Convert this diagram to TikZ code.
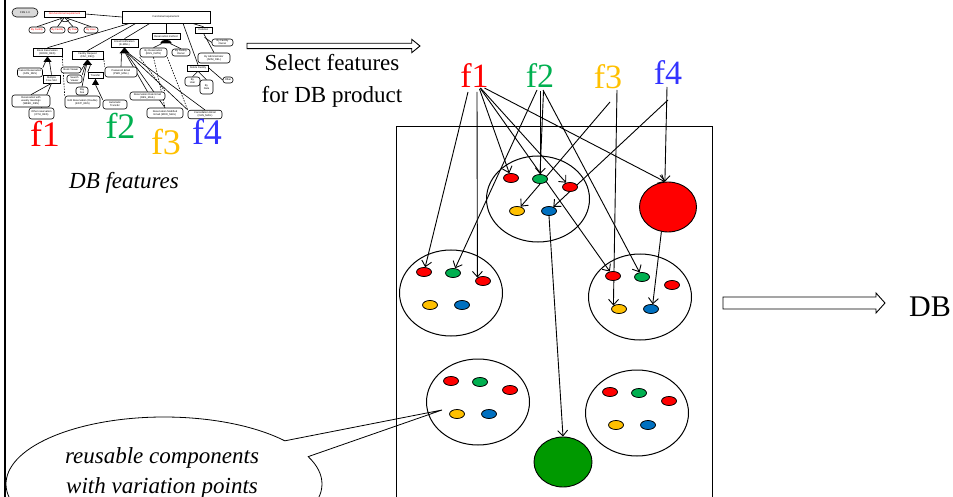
\documentclass[tikz,border=0pt]{standalone}
\usepackage{fontspec}
\setmainfont{Liberation Serif}
\setsansfont{Liberation Sans}
\usetikzlibrary{arrows.meta,shapes.geometric,shapes.callouts,calc,backgrounds}

\definecolor{fred}{HTML}{FF0000}
\definecolor{fgreen}{HTML}{00B050}
\definecolor{fyellow}{HTML}{FFC000}
\definecolor{fblue}{HTML}{3333FF}
\definecolor{dblue}{HTML}{0070C0}
\definecolor{cgreen}{HTML}{009900}

\tikzset{
  comp/.style={draw, ellipse, line width=1pt, minimum width=103pt, minimum height=86pt, inner sep=0pt},
  dot/.style={draw, ellipse, fill=#1, line width=0.8pt, minimum width=15pt, minimum height=9pt, inner sep=0pt},
  blob/.style={draw, ellipse, fill=#1, line width=0.9pt, inner sep=0pt},
  sel/.style={line width=0.9pt, -{Straight Barb[length=5.5pt,width=10pt,line width=0.9pt]}},
  flab/.style={anchor=base, inner sep=0pt, font=\fontsize{34}{34}\selectfont},
  tlab/.style={anchor=base, inner sep=0pt, font=\fontsize{36}{36}\selectfont},
  txt/.style={anchor=base, inner sep=0pt, font=\fontsize{23}{28}\selectfont},
  itxt/.style={anchor=base, inner sep=0pt, font=\itshape\fontsize{23}{28}\selectfont},
  hollow/.style={line width=0.9pt, fill=white, line join=miter},
  tbox/.style={draw, line width=0.6pt, rectangle, inner sep=0pt, align=center, fill=white,
    font=\sffamily\fontsize{2.6}{3}\selectfont},
  tpill/.style={tbox, rounded corners=2.5pt},
  tl/.style={line width=0.6pt},
  tld/.style={line width=0.6pt, dash pattern=on 1.5pt off 1.2pt},
}

\begin{document}
\begin{tikzpicture}[x=1pt, y=-1pt]
\useasboundingbox (0,0) rectangle (953,497);
\clip (0,0) rectangle (953,497);

% ---------- small feature diagram ----------
\node[tbox, rounded corners=4.5pt, fill=black!15, minimum width=26pt, minimum height=9pt] (frs) at (25,12.5) {FRS 1.0};
\node[tbox, text=red, minimum width=41pt, minimum height=6pt] (nonv) at (64.5,14) {Non-functional requirement};
\node[tpill, text=red, minimum width=16pt, minimum height=6pt] (by1) at (37,30) {By Facility};
\node[tpill, text=red, minimum width=15pt, minimum height=6pt] (by2) at (57.5,30) {By Facility};
\node[tpill, text=red, minimum width=10pt, minimum height=6pt] (by3) at (73,30) {By Date};
\node[tpill, text=red, minimum width=14pt, minimum height=6pt] (by4) at (91,30) {By User};
\node[tbox, minimum width=88pt, minimum height=12pt] (fr) at (166,17) {Functional requirement};
\node[tbox, minimum width=29pt, minimum height=8pt] (bookres) at (47.5,52) {Book Reservation\\(BOOK\_RES)};
\node[tbox, minimum width=31pt, minimum height=8pt] (facreq) at (87.5,55) {Facility Request\\(FAC\_REQ)};
\node[tbox, minimum width=27pt, minimum height=8pt] (email) at (124.5,43) {Email Notification\\(E-MAIL)};
\node[tbox, minimum width=28pt, minimum height=6pt] (resmeth) at (166,36.5) {Reservation method};
\node[tbox, minimum width=17pt, minimum height=6pt] (deletion) at (203.5,30) {Deletion};
\node[tbox, minimum width=21pt, minimum height=6pt] (delfac) at (198,68) {Delete Facility};
\node[tbox, minimum width=17pt, minimum height=8pt] (multi) at (51.5,79) {Multiple\\Free Slot};
\node[tbox, minimum width=15pt, minimum height=6pt] (transfer) at (95.5,75.5) {Transfer};
\node[tpill, minimum width=25pt, minimum height=9pt] (p1) at (30,72.5) {Cancel Reservation\\(CAN\_RES)};
\node[tpill, minimum width=38pt, minimum height=12pt] (p2) at (31,101) {Reservation with\\weekly meetings\\(WEEK\_RES)};
\node[tpill, minimum width=25pt, minimum height=11pt] (p3) at (41.5,113.5) {Other reservation\\(OTH\_RES)};
\node[tpill, minimum width=35pt, minimum height=12pt] (p4) at (82.5,102) {Edit Reservation (Double)\\(EDIT\_RES)};
\node[tpill, minimum width=20pt, minimum height=6pt] (p5) at (71,70) {Book Viewer};
\node[tpill, minimum width=15pt, minimum height=8pt] (p6) at (74.5,79) {Search\\Viewer};
\node[tpill, minimum width=12pt, minimum height=8pt] (p7) at (82,91) {Pay\\Fee};
\node[tpill, minimum width=32pt, minimum height=10pt] (p8) at (121,72) {Password Email\\(PWD\_MAIL)};
\node[tpill, minimum width=24pt, minimum height=9pt] (p9) at (115,104.5) {Automatic\\Transfer};
\node[tpill, minimum width=27pt, minimum height=9pt] (p10) at (153.5,52.5) {By Reservation\\(RES\_DATE)};
\node[tpill, minimum width=18pt, minimum height=7pt] (p11) at (181,52.5) {By Facility\\Owner};
\node[tpill, minimum width=35pt, minimum height=8pt] (p12) at (147.5,96) {Reservation Date Email\\(RES\_MAIL)};
\node[tpill, minimum width=36pt, minimum height=10pt] (p13) at (165,113) {Reservation Modified\\Email (MOD\_MAIL)};
\node[tpill, minimum width=34pt, minimum height=8.5pt] (p14) at (205,114.5) {Cancellation Email\\(CAN\_MAIL)};
\node[tpill, minimum width=21pt, minimum height=7pt] (p15) at (222.5,42.5) {By Facility\\Owner};
\node[tpill, minimum width=32pt, minimum height=10pt] (p16) at (214,58) {By Administrator\\(ADM\_DEL)};
\node[tpill, minimum width=15pt, minimum height=9pt] (p17) at (192.5,81.5) {By\\User};
\node[tpill, minimum width=13pt, minimum height=14pt] (p18) at (206.5,87) {By\\Date};
\node[tpill, minimum width=10pt, minimum height=6pt] (p19) at (228,80) {Other};

% group markers
\fill (bookres.south) -- ++(-4,5.5) -- ++(8,0) -- cycle;
\coordinate (t1) at ($(bookres.south)+(0,5.5)$);
\fill (facreq.south) -- ++(-4.5,5.5) -- ++(9,0) -- cycle;
\coordinate (t2) at ($(facreq.south)+(0,5.5)$);
\fill (transfer.south) -- ++(-3.5,6) -- ++(7,0) -- cycle;
\coordinate (t3) at ($(transfer.south)+(0,6)$);
\fill (email.south) -- ++(-5,6) -- ++(10,0) -- cycle;
\coordinate (t4) at ($(email.south)+(0,6)$);
\fill (160,43.5) .. controls (160.5,38.5) and (171.5,38.5) .. (172,43.5) -- cycle;
\coordinate (t5) at (166,43.5);
\draw[tl] (60.5,19.5) .. controls (63,22.5) and (67,22.5) .. (69.5,19.5);

\begin{pgfonlayer}{background}
\draw[tl] (nonv.east) -- (fr.west);
\foreach \b in {by1,by2,by3,by4} \draw[tl] (nonv.south) -- (\b.north);
\draw[tl] ($(fr.south)+(-36,0)$) -- (bookres.north);
\draw[tl] ($(fr.south)+(-30,0)$) -- (facreq.north);
\draw[tl] ($(fr.south)+(-16,0)$) -- (email.north);
\draw[tl] (fr.south) -- (resmeth.north);
\draw[tl] ($(fr.south)+(17,0)$) -- (delfac.north);
\draw[tl] ($(fr.south)+(26,0)$) -- (deletion.north);
\draw[tl] ($(t1)+(-2,0)$) -- (p1.north east);
\draw[tl] ($(t1)+(2,0)$) -- (multi.north);
\draw[tl] (multi.south) -- (p2.north);
\draw[tl] (multi.south) -- (p3.north);
\draw[tld] (bookres.south east) -- (p4.north west);
\draw[tl] ($(t2)+(-3,0)$) -- (p5.east);
\draw[tl] ($(t2)+(-2,0)$) -- (p6.north east);
\draw[tl] ($(t2)+(-1,0)$) -- (p7.north);
\draw[tl] ($(t2)+(3,0)$) -- (transfer.north west);
\draw[tld] (facreq.east) -- (p8.north west);
\draw[tl] (t3) -- (p9.north west);
\draw[tl] ($(t4)+(-3,0)$) -- (p8.north);
\draw[tl] ($(t4)+(1,0)$) -- (p12.north);
\draw[tl] ($(t4)+(2,0)$) -- (p13.north);
\draw[tl] ($(t4)+(3,0)$) -- (p14.north west);
\draw[tl] ($(t4)+(4,0)$) -- (p14.north);
\draw[tl] ($(t5)+(-4,0)$) -- (p10.north);
\draw[tl] ($(t5)+(4,0)$) -- (p11.north);
\draw[tld] (p10.south west) -- (p12.north east);
\draw[tld] (p10.south) -- (p13.north);
\draw[tld] (p10.south east) -- (p14.north west);
\draw[tl] (deletion.south) -- (p16.north);
\draw[tl] ($(deletion.south)+(1,4)$) -- (p15.west);
\draw[tl] (delfac.south) -- (p17.north);
\draw[tl] (delfac.south) -- (p18.north);
\draw[tl] (delfac.east) -- (p19.west);
\end{pgfonlayer}

\node[tlab, text=fred] (tf1) at (45,147) {f1};
\node[tlab, text=fgreen] (tf2) at (120.5,139) {f2};
\node[tlab, text=fyellow] (tf3) at (166,155) {f3};
\node[tlab, text=fblue] (tf4) at (207,145) {f4};
\node[itxt] (dbf) at (124,189) {DB features};

% ---------- feature selection ----------
\draw[hollow] (247,43.3) -- (411.7,43.3) -- (411.7,39.3) -- (420,46) -- (411.7,52.7) -- (411.7,48.7) -- (247,48.7) -- cycle;
\node[txt] (sel1) at (332,70.7) {Select features};
\node[txt] (sel2) at (332,102.7) {for DB product};

% ---------- callout ----------
\coordinate (tip) at (442,410);
\node[ellipse callout, draw, fill=white, line width=0.8pt, minimum width=316pt, minimum height=134pt,
      callout absolute pointer={(tip)}, callout pointer arc=16] (bubble) at (164,484) {};
\node[itxt] (bub1) at (162,463) {reusable components};
\node[itxt] (bub2) at (162,493) {with variation points};

% ---------- component platform ----------
\draw[line width=1pt] (396,510) -- (396,127) -- (712,127) -- (712,510);

\foreach \c/\x/\y in {t/538/199, l/451/293, r/640/297, bl/478/402, br/637/413} {
  \node[comp] (\c comp) at (\x,\y) {};
  \node[dot=fred]    (\c r1) at (\x-27,\y-21) {};
  \node[dot=fgreen]  (\c g)  at (\x+2,\y-20) {};
  \node[dot=fred]    (\c r2) at (\x+32,\y-12) {};
  \node[dot=fyellow] (\c y)  at (\x-21,\y+12) {};
  \node[dot=dblue]   (\c b)  at (\x+11,\y+12) {};
}
\node[blob=fred, minimum width=57pt, minimum height=50pt] (bigred) at (668,207) {};
\node[blob=cgreen, minimum width=58pt, minimum height=50pt] (gcirc) at (563,462) {};

\node[flab, text=fred] (f1) at (474.5,88) {f1};
\node[flab, text=fgreen] (f2) at (540,88) {f2};
\node[flab, text=fyellow] (f3) at (608,89) {f3};
\node[flab, text=fblue] (f4) at (668,85) {f4};

\begin{pgfonlayer}{background}
\draw[sel] ($(f1.base)+(-6.5,4)$) -- (lr1);
\draw[sel] ($(f1.base)+(2.5,4)$) -- (lr2.north west);
\draw[sel] ($(f1.base)+(5,1)$) -- (tr1);
\draw[sel] ($(f1.base)+(5.5,0)$) -- (rr1);
\draw[sel] ($(f1.base)+(6,0)$) -- (tr2);
\draw[sel] ($(f1.base)+(10,0)$) -- (bigred.97);
\draw[sel] ($(f2.base)+(-3,2)$) -- (lg);
\draw[line width=0.9pt] ($(f2.base)+(0,3)$) -- (tg.north);
\draw[sel] ($(f2.base)+(3.5,3)$) -- (tg.north);
\draw[sel] ($(f2.base)+(3,2)$) -- (rg);
\draw[sel] ($(f3.base)+(2,13)$) -- (ty);
\draw[sel] ($(f3.base)+(9,1)$) -- (ry.north west);
\draw[sel] ($(f4.base)+(0,15)$) -- (tb);
\draw[sel] ($(f4.base)+(-1,2)$) -- (bigred.97);
\draw[sel] (bigred.255) -- (rb.70);
\draw[sel] (tb.south) -- (gcirc.north);
\end{pgfonlayer}

% ---------- product ----------
\draw[hollow] (723,297) -- (876,297) -- (876,293) -- (885,303) -- (876,313) -- (876,309) -- (723,309) -- cycle;
\node[anchor=base west, inner sep=0pt, font=\fontsize{30}{30}\selectfont] (db) at (909,316.7) {DB};

% frame edge
\draw[line width=2.5pt] (5,0) -- (5,497);
\end{tikzpicture}
\end{document}
